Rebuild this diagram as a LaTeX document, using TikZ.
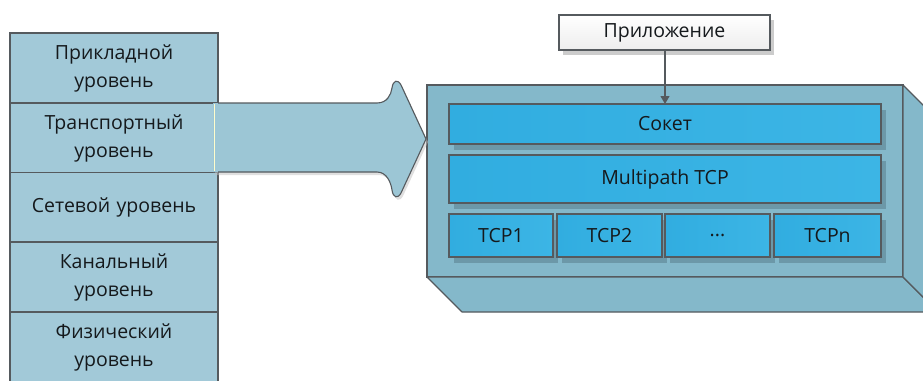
\documentclass[tikz,border=0pt]{standalone}
\usepackage{fontspec}
\setmainfont{Open Sans}
\usetikzlibrary{shadows,calc,arrows.meta}
\definecolor{edge}{HTML}{555A5E}
\definecolor{stackfill}{HTML}{A2C9D8}
\definecolor{arrowfill}{HTML}{9CC6D5}
\definecolor{boxface}{HTML}{84B8CA}
\definecolor{inner}{HTML}{31ADE0}
\definecolor{innerlight}{HTML}{3CB5E5}
\definecolor{innershadow}{HTML}{6C98A8}
\definecolor{txt}{HTML}{15191C}
\begin{document}
\begin{tikzpicture}[x=1pt,y=-1pt,
  basefont/.style={font=\fontsize{19.5}{28}\selectfont, text=txt},
  layer/.style={basefont, draw=edge, line width=1.1pt, fill=stackfill, minimum width=208pt, minimum height=70pt, text width=204pt, align=center, inner sep=0pt, outer sep=0pt, anchor=north west},
  innerbox/.style={basefont, draw=edge, line width=1.1pt, left color=inner, right color=innerlight, inner sep=0pt, outer sep=0pt, anchor=north west,
     drop shadow={shadow xshift=5pt, shadow yshift=-6pt, fill=innershadow, opacity=1}},
  appbox/.style={basefont, draw=edge, line width=1.1pt, top color=white, bottom color=black!7, inner sep=0pt, outer sep=0pt, anchor=north west, minimum width=211pt, minimum height=35pt,
     drop shadow={shadow xshift=4pt, shadow yshift=-5pt, fill=black!20, opacity=1}},
  faceline/.style={draw=edge, line width=1.1pt, fill=boxface, line join=round}
]
\useasboundingbox (0,0) rectangle (923,380);
\begin{scope}
\clip (0,0) rectangle (923,380);
% left stack of layers
\node[layer] (l1) at (10,33) {Прикладной\\уровень};
\node[layer] (l2) at (10,103) {Транспортный\\уровень};
\node[layer] (l3) at (10,172.5) {Сетевой уровень};
\node[layer] (l4) at (10,242) {Канальный\\уровень};
\node[layer] (l5) at (10,312) {Физический\\уровень};
% big 3D box
\node[draw=edge, line width=1.1pt, fill=boxface, minimum width=476pt, minimum height=192pt, inner sep=0pt, outer sep=0pt, anchor=north west] (front) at (427,85) {};
\draw[faceline] (front.south west) -- ++(35,35) -- ($(front.south east)+(35,35)$) -- (front.south east) -- cycle;
\draw[faceline] (front.north east) -- ++(35,35) -- ($(front.south east)+(35,35)$) -- (front.south east) -- cycle;
% big arrow
\fill[arrowfill, drop shadow={shadow xshift=2pt, shadow yshift=-3pt, fill=black!25, opacity=0.5}]
  (213,103) -- (377,103) .. controls (387,103) and (391,95) .. (392,88)
  .. controls (393,80) and (398,79) .. (401,85) -- (426,139) -- (401,193)
  .. controls (398,199) and (393,198) .. (392,190)
  .. controls (391,183) and (387,172) .. (377,172) -- (213,172) -- cycle;
\draw[edge, line width=1.1pt, line join=round]
  (218,103) -- (377,103) .. controls (387,103) and (391,95) .. (392,88)
  .. controls (393,80) and (398,79) .. (401,85) -- (426,139) -- (401,193)
  .. controls (398,199) and (393,198) .. (392,190)
  .. controls (391,183) and (387,172) .. (377,172) -- (218,172);
\draw[white!80!yellow, line width=0.8pt] (214,104) -- (214,171);
% inner boxes
\node[innerbox, minimum width=432pt, minimum height=40pt] (sock) at (449,104) {Сокет};
\node[innerbox, minimum width=432pt, minimum height=48pt] (mptcp) at (449,155) {Multipath TCP};
\node[innerbox, minimum width=104pt, minimum height=43pt] (tcp1) at (449,214) {TCP1};
\node[innerbox, minimum width=105pt, minimum height=43pt] (tcp2) at (557,214) {TCP2};
\node[innerbox, minimum width=105pt, minimum height=43pt] (tcpd) at (665,214) {...};
\node[innerbox, minimum width=107pt, minimum height=43pt] (tcpn) at (774,214) {TCPn};
% application
\node[appbox] (app) at (559,15) {Приложение};
\draw[edge, line width=1.1pt, -{Triangle[width=9pt,length=8pt]}] (app.south -| sock.north) -- (sock.north);
\end{scope}
\end{tikzpicture}
\end{document}
